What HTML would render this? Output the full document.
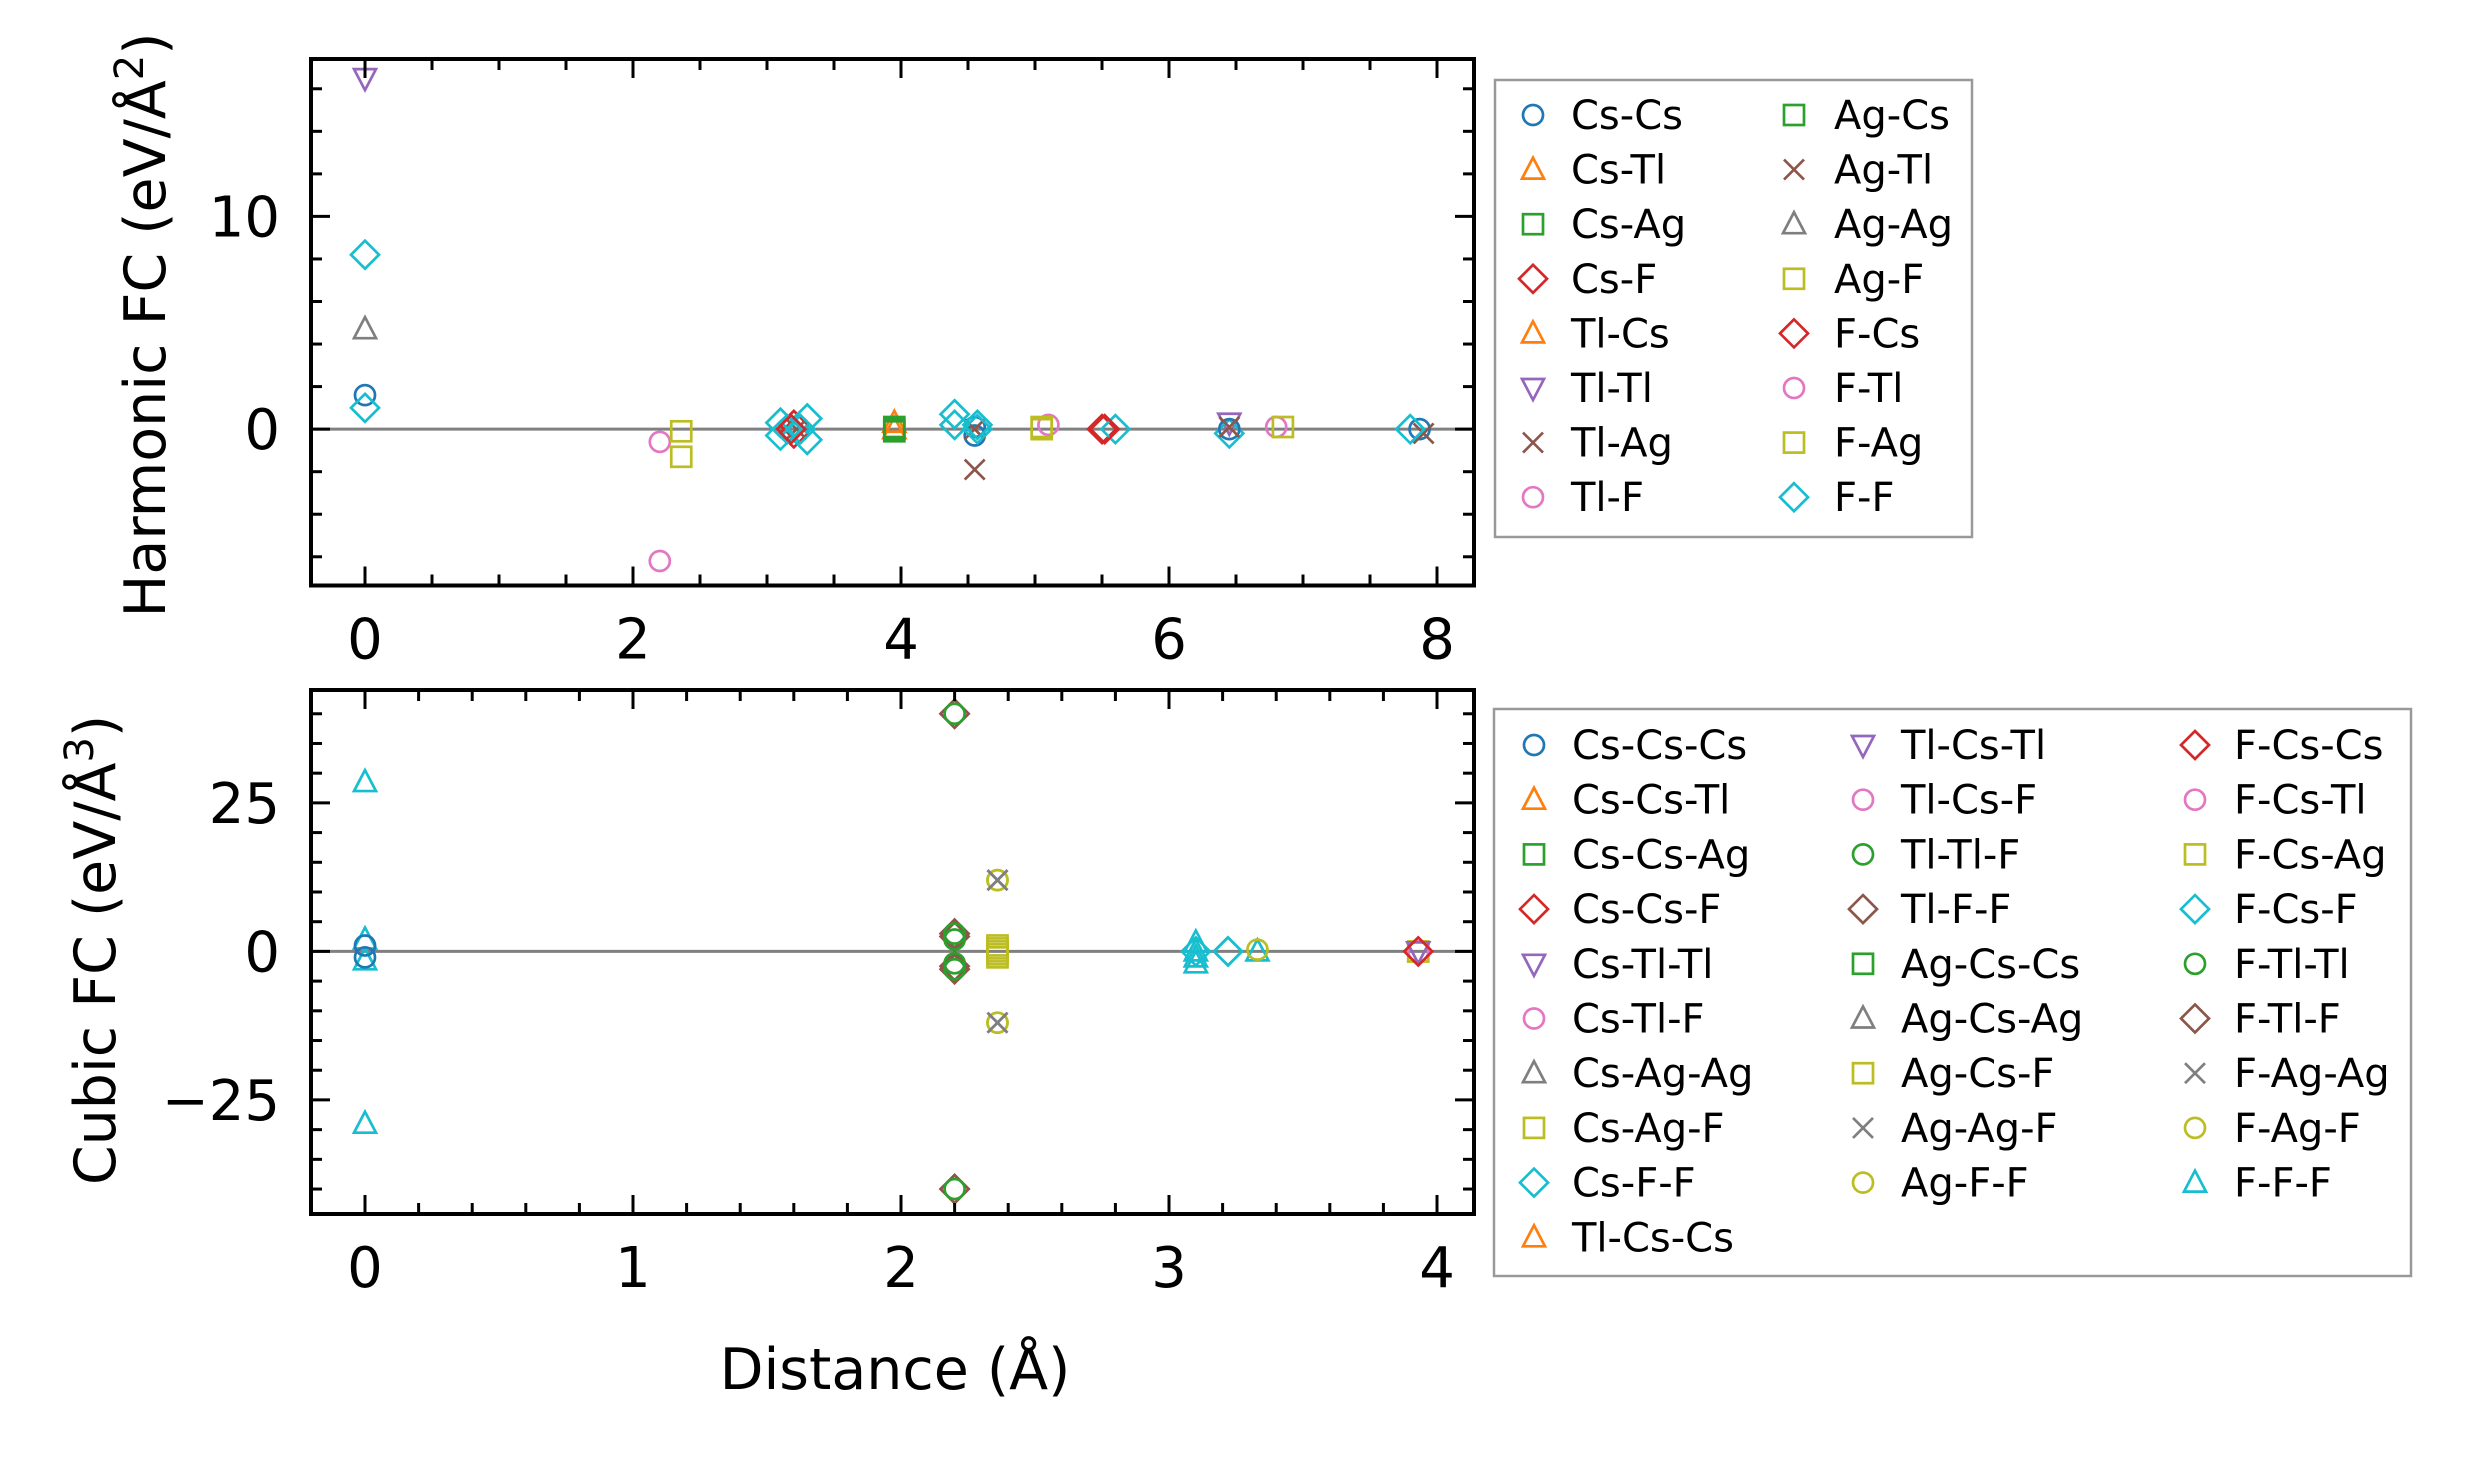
<!DOCTYPE html>
<html><head><meta charset="utf-8"><style>
html,body{margin:0;padding:0;background:#fff;}
svg{display:block;font-family:"DejaVu Sans","Liberation Sans",sans-serif;}
</style></head><body>
<svg id="fig" width="2470" height="1460" viewBox="0 0 2470 1460" xmlns="http://www.w3.org/2000/svg">
<rect width="2470" height="1460" fill="#fff"/>
<g id="top"></g>
<g id="bot"></g>
<text transform="translate(165,325) rotate(-90)" text-anchor="middle" font-size="57">Harmonic FC (eV/Å<tspan dy="-22" font-size="40">2</tspan><tspan dy="22">)</tspan></text>
<text transform="translate(115,950) rotate(-90)" text-anchor="middle" font-size="57">Cubic FC (eV/Å<tspan dy="-22" font-size="40">3</tspan><tspan dy="22">)</tspan></text>
<text x="895" y="1389" text-anchor="middle" font-size="57">Distance (Å)</text>
<g id="leg1"></g>
<g id="leg2"></g>
</svg>
<script>
// ---- data ----
const harmonicSeries = ["Cs-Cs","Cs-Tl","Cs-Ag","Cs-F","Tl-Cs","Tl-Tl","Tl-Ag","Tl-F","Ag-Cs","Ag-Tl","Ag-Ag","Ag-F","F-Cs","F-Tl","F-Ag","F-F"];
const harmonicMarkers = ["o","^","s","D","^","v","x","o","s","x","^","s","D","o","s","D"];
const harmonicColors = ["#1f77b4","#ff7f0e","#2ca02c","#d62728","#ff7f0e","#9467bd","#8c564b","#e377c2","#2ca02c","#8c564b","#7f7f7f","#bcbd22","#d62728","#e377c2","#bcbd22","#17becf"];
// points: series index, distance, FC
const harmonicIdx  = [0,0,0,0, 1,4,2,8,2, 3,3,12, 6,9,6,9, 7,7,13, 11,14,11,14, 5,5, 15,15,15,15,15,15,15,15,15,15,15,15,15,15,15, 3,12, 13,14, 0,9, 10];
const harmonicDist = [0,4.55,4.55,7.87, 3.95,3.95,3.95,3.95,3.95, 3.2,3.2,5.5, 3.22,4.55,4.55,7.9, 2.2,2.2,5.1, 2.36,2.36,5.05,5.05, 0,6.45, 0,0,3.1,3.1,3.3,3.3,3.15,3.25,4.4,4.4,4.57,4.57,5.6,6.45,7.8, 3.18,5.52, 6.8,6.85, 6.45,6.45, 0];
const harmonicFC   = [1.6,-0.3,0.1,0, 0.3,0.0,0.1,-0.1,0.0, 0.2,-0.2,0, 0,0,-1.9,-0.2, -0.6,-6.2,0.2, -0.1,-1.3,0.1,0.0, 16.5,0.3, 8.2,1.0,0.3,-0.3,0.5,-0.5,0,0,0.7,0.2,0.2,0,0,-0.2,0, 0,0, 0.1,0.1, 0,0.1, 4.7];
const harmonicXTicks = [0,2,4,6,8];
const harmonicYTicks = [0,10];

const cubicSeries = ["Cs-Cs-Cs","Cs-Cs-Tl","Cs-Cs-Ag","Cs-Cs-F","Cs-Tl-Tl","Cs-Tl-F","Cs-Ag-Ag","Cs-Ag-F","Cs-F-F","Tl-Cs-Cs","Tl-Cs-Tl","Tl-Cs-F","Tl-Tl-F","Tl-F-F","Ag-Cs-Cs","Ag-Cs-Ag","Ag-Cs-F","Ag-Ag-F","Ag-F-F","F-Cs-Cs","F-Cs-Tl","F-Cs-Ag","F-Cs-F","F-Tl-Tl","F-Tl-F","F-Ag-Ag","F-Ag-F","F-F-F"];
const cubicMarkers = ["o","^","s","D","v","o","^","s","D","^","v","o","o","D","s","^","s","x","o","D","o","s","D","o","D","x","o","^"];
const cubicColors = ["#1f77b4","#ff7f0e","#2ca02c","#d62728","#9467bd","#e377c2","#7f7f7f","#bcbd22","#17becf","#ff7f0e","#9467bd","#e377c2","#2ca02c","#8c564b","#2ca02c","#7f7f7f","#bcbd22","#7f7f7f","#bcbd22","#d62728","#e377c2","#bcbd22","#17becf","#2ca02c","#8c564b","#7f7f7f","#bcbd22","#17becf"];
const cubicIdx  = [27,27,27,27, 0,0, 13,13,13,13, 24,24,24,24, 12,12,12,12, 23,23, 18,18,26,26, 17,17,25,25, 16,16,16,21,21, 27,27,27,27, 22,22,8, 27,18, 7,21,5,4,3];
const cubicDist = [0,0,0,0, 0,0, 2.2,2.2,2.2,2.2, 2.2,2.2,2.2,2.2, 2.2,2.2,2.2,2.2, 2.2,2.2, 2.36,2.36,2.36,2.36, 2.36,2.36,2.36,2.36, 2.36,2.36,2.36,2.36,2.36, 3.1,3.1,3.1,3.1, 3.22,3.1,3.22, 3.33,3.33, 3.93,3.93,3.93,3.93,3.93];
const cubicFC   = [28.5,-29,2,-1.5, 1,-1, 40,3,-3,-40, 40,2.5,-2.5,-40, 40,3,-3,-40, 2,-2, 12,-12,12,-12, 12,-12,12,-12, 1,0,-1,0.5,-0.5, 1.5,0,-1,-2, 0,0,0, 0,0.3, 0,0,0,0,0];
const cubicXTicks = [0,1,2,3,4];
const cubicYTicks = [-25,0,25];

// ---- rendering ----
const NS="http://www.w3.org/2000/svg";
function mk(parent,tag,attrs){const e=document.createElementNS(NS,tag);for(const k in attrs)e.setAttribute(k,attrs[k]);parent.appendChild(e);return e;}
function marker(g,m,cx,cy,color){
  let e;const sw=2.7;
  if(m==="o"){e=mk(g,"circle",{cx:cx,cy:cy,r:10});}
  else if(m==="s"){e=mk(g,"rect",{x:cx-10,y:cy-10,width:20,height:20});}
  else if(m==="D"){e=mk(g,"polygon",{points:`${cx},${cy-14} ${cx+14},${cy} ${cx},${cy+14} ${cx-14},${cy}`});}
  else if(m==="^"){e=mk(g,"polygon",{points:`${cx},${cy-12} ${cx+11},${cy+9} ${cx-11},${cy+9}`});}
  else if(m==="v"){e=mk(g,"polygon",{points:`${cx},${cy+12} ${cx+11},${cy-9} ${cx-11},${cy-9}`});}
  else {e=mk(g,"path",{d:`M${cx-10},${cy-10}L${cx+10},${cy+10}M${cx-10},${cy+10}L${cx+10},${cy-10}`});}
  e.setAttribute("fill","none");e.setAttribute("stroke",color);e.setAttribute("stroke-width",sw);
  return e;
}
function panel(g,cfg){
  const {L,R,T,B,x0,x1,y0,y1}=cfg;
  const sx=v=>L+(v-x0)/(x1-x0)*(R-L);
  const sy=v=>B-(v-y0)/(y1-y0)*(B-T);
  mk(g,"line",{x1:L,x2:R,y1:sy(0),y2:sy(0),stroke:"#808080","stroke-width":3});
  for(let i=0;i<cfg.idx.length;i++){
    const s=cfg.idx[i];
    const el=marker(g,cfg.markers[s],sx(cfg.dist[i]),sy(cfg.fc[i]),cfg.colors[s]);
    
    
  }
  const tg=mk(g,"g",{stroke:"#000","stroke-width":3});
  
  
  for(let v=Math.ceil(x0/cfg.xminor)*cfg.xminor; v<=x1+1e-9; v+=cfg.xminor){
    const x=sx(v);const major=Math.abs(v/cfg.xmajor-Math.round(v/cfg.xmajor))<1e-6;const l=major?19:11;
    mk(tg,"line",{x1:x,x2:x,y1:B,y2:B-l});mk(tg,"line",{x1:x,x2:x,y1:T,y2:T+l});
  }
  for(let v=Math.ceil(y0/cfg.yminor)*cfg.yminor; v<=y1+1e-9; v+=cfg.yminor){
    const y=sy(v);const major=Math.abs(v/cfg.ymajor-Math.round(v/cfg.ymajor))<1e-6;const l=major?19:11;
    mk(tg,"line",{x1:L,x2:L+l,y1:y,y2:y});mk(tg,"line",{x1:R,x2:R-l,y1:y,y2:y});
  }
  for(const v of cfg.xt){const t=mk(g,"text",{x:sx(v),y:B+73,"text-anchor":"middle","font-size":56});t.textContent=String(v);
    }
  for(const v of cfg.yt){const t=mk(g,"text",{x:L-31,y:sy(v)+20,"text-anchor":"end","font-size":56});t.textContent=(v<0?"\u2212"+(-v):String(v));
    }
  const f=mk(g,"rect",{x:L,y:T,width:R-L,height:B-T,fill:"none",stroke:"#000","stroke-width":4});
  
}
panel(document.getElementById("top"),{L:311,R:1474,T:59,B:585.5,x0:-0.403,x1:8.276,y0:-7.35,y1:17.4,
  xminor:0.5,xmajor:2,yminor:2,ymajor:10,xt:harmonicXTicks,yt:harmonicYTicks,
  idx:harmonicIdx,dist:harmonicDist,fc:harmonicFC,markers:harmonicMarkers,colors:harmonicColors,series:harmonicSeries});
panel(document.getElementById("bot"),{L:311,R:1474,T:690,B:1214,x0:-0.2015,x1:4.138,y0:-44.2,y1:44.0,
  xminor:0.2,xmajor:1,yminor:5,ymajor:25,xt:cubicXTicks,yt:cubicYTicks,
  idx:cubicIdx,dist:cubicDist,fc:cubicFC,markers:cubicMarkers,colors:cubicColors,series:cubicSeries});

function legend(g,box,series,markers,colors,colSizes,colX,textX,y0,dy){
  mk(g,"rect",{x:box[0],y:box[1],width:box[2]-box[0],height:box[3]-box[1],fill:"#fff",stroke:"#999","stroke-width":2.5});
  let i=0;
  colSizes.forEach((n,c)=>{
    for(let r=0;r<n;r++,i++){
      const y=y0+r*dy;
      const m=marker(g,markers[i],colX[c],y,colors[i]);
      
      
      const t=mk(g,"text",{x:textX[c],y:y+14,"font-size":40});t.textContent=series[i];
      
      
    }
  });
}
legend(document.getElementById("leg1"),[1495,80,1972,537],harmonicSeries,harmonicMarkers,harmonicColors,[8,8],[1533,1794],[1571,1834],115,54.6);
legend(document.getElementById("leg2"),[1494,709,2411,1276],cubicSeries,cubicMarkers,cubicColors,[10,9,9],[1534,1863,2195],[1572,1901,2234],745,54.7);
</script>
</body></html>
